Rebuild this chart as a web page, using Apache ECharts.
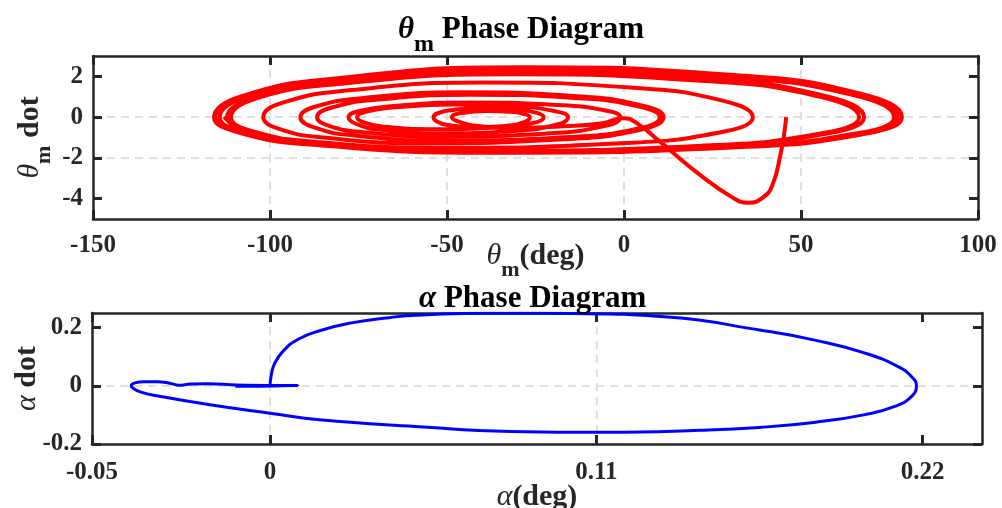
<!DOCTYPE html>
<html>
<head>
<meta charset="utf-8">
<script src="https://cdn.jsdelivr.net/npm/echarts@6/dist/echarts.min.js"></script>
<style>
  html, body { margin: 0; padding: 0; background: #fff; }
  #chart { width: 1002px; height: 508px; }
</style>
</head>
<body>
<div id="chart"></div>
<script>
// theta_m trajectory [theta_m (deg), theta_m dot]
const thetaPath = [
  [45.8, 0], [45.2, -0.9], [44.4, -1.67], [42.0, -3.3], [39.2, -3.95], [35.0, -4.2], [30.7, -3.95],
  [21.3, -2.81], [10.0, -1.18], [3.5, -0.28], [-0.3, -0.05],
  [-6, -0.3], [-17, -0.45], [-30, -0.52], [-42, -0.42], [-47, -0.2], [-48.6, 0],
  [-47.7, 0.13], [-44.6, 0.23], [-38.7, 0.3], [-32.1, 0.26], [-27.9, 0.14], [-26.6, 0],
  [-28.0, -0.23], [-33.4, -0.43], [-42.9, -0.5], [-49.7, -0.39], [-52.7, -0.23], [-53.8, 0],
  [-52.6, 0.19], [-48.2, 0.35], [-39.8, 0.45], [-30.5, 0.38], [-24.6, 0.21], [-22.7, 0],
  [-25.3, -0.27], [-35.9, -0.51], [-54.3, -0.6], [-67.5, -0.47], [-73.3, -0.27], [-75.4, 0],
  [-73.0, 0.26], [-64.7, 0.48], [-48.6, 0.62], [-30.7, 0.53], [-19.4, 0.29], [-15.8, 0],
  [-18.9, -0.36], [-31.3, -0.68], [-53.0, -0.8], [-68.5, -0.62], [-75.3, -0.36], [-77.8, 0],
  [-74.7, 0.3], [-64.0, 0.56], [-43.2, 0.72], [-20.2, 0.61], [-5.6, 0.34], [-1.0, 0],
  [-5.3, -0.43], [-22.4, -0.81], [-52.4, -0.95], [-73.8, -0.74], [-83.3, -0.43], [-86.7, 0],
  [-82.8, 0.46], [-69.3, 0.86], [-43.1, 1.1], [-14.1, 0.94], [4.3, 0.52], [10.1, 0],
  [5.0, -0.52], [-15.3, -0.98], [-50.8, -1.15], [-76.2, -0.9], [-87.3, -0.52], [-91.4, 0],
  [-87.3, 0.51], [-72.9, 0.95], [-45.2, 1.22], [-14.4, 1.04], [5.0, 0.57], [11.2, 0],
  [5.5, -0.58], [-17.1, -1.09], [-56.7, -1.28], [-84.9, -1.0], [-97.4, -0.58], [-101.9, 0],
  [-96.4, 0.71], [-77.0, 1.33], [-39.7, 1.7], [1.8, 1.45], [28.1, 0.8], [36.4, 0],
  [29.0, -0.68], [-0.7, -1.28], [-52.7, -1.5], [-89.8, -1.17], [-106.2, -0.68], [-112.1, 0],
  [-105.0, 0.88], [-80.0, 1.64], [-31.8, 2.1], [21.8, 1.79], [55.7, 0.99], [66.4, 0],
  [57.5, -0.74], [22.0, -1.4], [-40.0, -1.65], [-84.4, -1.29], [-103.9, -0.74], [-111.0, 0],
  [-103.8, 0.92], [-78.8, 1.72], [-30.5, 2.2], [23.1, 1.87], [57.1, 1.03], [67.8, 0],
  [58.6, -0.77], [22.0, -1.45], [-42.1, -1.7], [-87.9, -1.33], [-108.1, -0.77], [-115.4, 0],
  [-107.7, 0.97], [-80.9, 1.79], [-29.1, 2.3], [28.4, 1.96], [64.8, 1.08], [76.3, 0],
  [66.8, -0.77], [28.7, -1.46], [-38.0, -1.72], [-85.6, -1.34], [-106.6, -0.77], [-114.2, 0],
  [-106.5, 1.0], [-79.7, 1.86], [-28.0, 2.38], [29.4, 2.02], [65.8, 1.12], [77.3, 0],
  [67.6, -0.79], [29.0, -1.49], [-38.6, -1.75], [-86.8, -1.37], [-108.1, -0.79], [-115.8, 0],
  [-108.0, 1.03], [-80.8, 1.91], [-28.4, 2.45], [29.9, 2.08], [66.8, 1.15], [78.5, 0],
  [68.9, -0.79], [30.6, -1.49], [-36.4, -1.75], [-84.3, -1.37], [-105.3, -0.79], [-113.0, 0]
];

// alpha trajectory [alpha (deg), alpha dot]
const alphaPath = [
  [0.0, 0.0], [0.0004, 0.035], [0.0015, 0.075], [0.0045, 0.12], [0.0095, 0.16], [0.017, 0.19],
  [0.0274, 0.216], [0.04, 0.234], [0.0488, 0.242], [0.065, 0.248], [0.081, 0.249], [0.102, 0.248],
  [0.134, 0.236], [0.166, 0.19], [0.184, 0.156],
  [0.2006, 0.112], [0.2117, 0.066], [0.2162, 0.032], [0.2179, 0.0], [0.2162, -0.037], [0.2106, -0.071],
  [0.2006, -0.099], [0.184, -0.125], [0.165, -0.143], [0.145, -0.153], [0.113, -0.16], [0.081, -0.157],
  [0.049, -0.14], [0.0167, -0.117], [0.0006, -0.095], [-0.0197, -0.066], [-0.0368, -0.037],
  [-0.0435, -0.022], [-0.0462, -0.008], [-0.0468, 0.0], [-0.0455, 0.01], [-0.0425, 0.014],
  [-0.0379, 0.014], [-0.0335, 0.008], [-0.0307, 0.002], [-0.0267, 0.006], [-0.0212, 0.007],
  [-0.011, 0.003], [0.0094, 0.0], [-0.0117, -0.002], [0.0094, 0.001], [0.0, 0.0]
];

const thetaXTicks = [-150, -100, -50, 0, 50, 100];
const thetaYTicks = [-4, -2, 0, 2];
const alphaXTicks = [-0.06, 0, 0.11, 0.22];
const alphaXTickLabels = ['-0.05', '0', '0.11', '0.22'];
const alphaYTicks = [-0.2, 0, 0.2];

const FONT = 'Liberation Serif';
const INK = '#262626';

const chart = echarts.init(document.getElementById('chart'));

const boxLine = { show: true, onZero: false, lineStyle: { color: INK, width: 2.5 } };
const tick = { show: true, inside: true, length: 9, lineStyle: { color: INK, width: 3 } };
const split = { show: true, showMinLine: false, showMaxLine: false, lineStyle: { color: '#d6d6d6', width: 1.5, type: [8, 6] } };
const label = { color: INK, fontFamily: FONT, fontWeight: 'bold', fontSize: 25 };

const nameRich = {
  it: { fontFamily: FONT, fontStyle: 'italic', fontSize: 30, color: INK, verticalAlign: 'top' },
  b: { fontFamily: FONT, fontWeight: 'bold', fontSize: 30, color: INK, verticalAlign: 'top' },
  sub: { fontFamily: FONT, fontWeight: 'bold', fontSize: 22, color: INK, verticalAlign: 'top', padding: [18, 0, 0, 0] }
};
const titleRich = {
  it: { fontFamily: FONT, fontStyle: 'italic', fontSize: 31, color: '#000', verticalAlign: 'top' },
  b: { fontFamily: FONT, fontWeight: 'bold', fontSize: 31, color: '#000', verticalAlign: 'top' },
  sub: { fontFamily: FONT, fontWeight: 'bold', fontSize: 24, color: '#000', verticalAlign: 'top', padding: [19, 0, 0, 0] }
};

const option = {
  animation: false,
  backgroundColor: '#fff',
  title: [
    { text: '{it|θ}{sub|m}{b| Phase Diagram}', left: 398, top: 14, padding: 0, textStyle: { rich: titleRich } },
    { text: '{it|α}{b| Phase Diagram}', left: 419, top: 283, padding: 0, textStyle: { rich: titleRich } }
  ],
  grid: [
    { left: 93, top: 56, width: 885, height: 163, outerBoundsMode: 'none' },
    { left: 92, top: 313, width: 890, height: 131, outerBoundsMode: 'none' }
  ],
  xAxis: [
    {
      gridIndex: 0, type: 'value', position: 'bottom', min: -150, max: 100, interval: 50,
      axisLine: boxLine, axisTick: tick, splitLine: split,
      axisLabel: Object.assign({ margin: 14 }, label),
      name: '{it|θ}{sub|m}{b|(deg)}', nameLocation: 'middle', nameGap: 22, nameMoveOverlap: false,
      nameTextStyle: { rich: nameRich }
    },
    {
      gridIndex: 0, type: 'value', position: 'top', min: -150, max: 100, interval: 50,
      axisLine: boxLine, axisTick: tick, splitLine: { show: false }, axisLabel: { show: false }
    },
    {
      gridIndex: 1, type: 'value', position: 'bottom', min: -0.06, max: 0.24,
      axisLine: boxLine,
      axisTick: Object.assign({ customValues: alphaXTicks }, tick), splitLine: split,
      axisLabel: Object.assign({
        margin: 16, customValues: alphaXTicks,
        formatter: v => alphaXTickLabels[alphaXTicks.indexOf(v)]
      }, label),
      name: '{it|α}{b|(deg)}', nameLocation: 'middle', nameGap: 38, nameMoveOverlap: false,
      nameTextStyle: { rich: nameRich }
    },
    {
      gridIndex: 1, type: 'value', position: 'top', min: -0.06, max: 0.24,
      axisLine: boxLine, axisTick: Object.assign({ customValues: alphaXTicks }, tick),
      splitLine: { show: false }, axisLabel: { show: false }
    }
  ],
  yAxis: [
    {
      gridIndex: 0, type: 'value', position: 'left', min: -5, max: 3,
      axisLine: boxLine,
      axisTick: Object.assign({ customValues: thetaYTicks }, tick), splitLine: split,
      axisLabel: Object.assign({ margin: 10, customValues: thetaYTicks }, label),
      name: '{it|θ}{sub|m}{b| dot}', nameLocation: 'middle', nameRotate: 90, nameGap: 38, nameMoveOverlap: false,
      nameTextStyle: { rich: nameRich }
    },
    {
      gridIndex: 0, type: 'value', position: 'right', min: -5, max: 3,
      axisLine: boxLine, axisTick: Object.assign({ customValues: thetaYTicks }, tick),
      splitLine: { show: false }, axisLabel: { show: false }
    },
    {
      gridIndex: 1, type: 'value', position: 'left', min: -0.2, max: 0.25,
      axisLine: boxLine,
      axisTick: Object.assign({ customValues: alphaYTicks }, tick), splitLine: split,
      axisLabel: Object.assign({ margin: 10, customValues: alphaYTicks }, label),
      name: '{it|α}{b| dot}', nameLocation: 'middle', nameRotate: 90, nameGap: 50, nameMoveOverlap: false,
      nameTextStyle: { rich: nameRich }
    },
    {
      gridIndex: 1, type: 'value', position: 'right', min: -0.2, max: 0.25,
      axisLine: boxLine, axisTick: Object.assign({ customValues: alphaYTicks }, tick),
      splitLine: { show: false }, axisLabel: { show: false }
    }
  ],
  series: [
    {
      name: 'theta_m', type: 'line', xAxisIndex: 0, yAxisIndex: 0,
      data: thetaPath, showSymbol: false, smooth: 0.5,
      lineStyle: { color: '#ff0000', width: 4 }, z: 3
    },
    {
      name: 'alpha', type: 'line', xAxisIndex: 2, yAxisIndex: 2,
      data: alphaPath, showSymbol: false, smooth: 0.5,
      lineStyle: { color: '#0000ff', width: 3 }, z: 3
    }
  ]
};

chart.setOption(option);
window.addEventListener('resize', () => chart.resize());
</script>
</body>
</html>
